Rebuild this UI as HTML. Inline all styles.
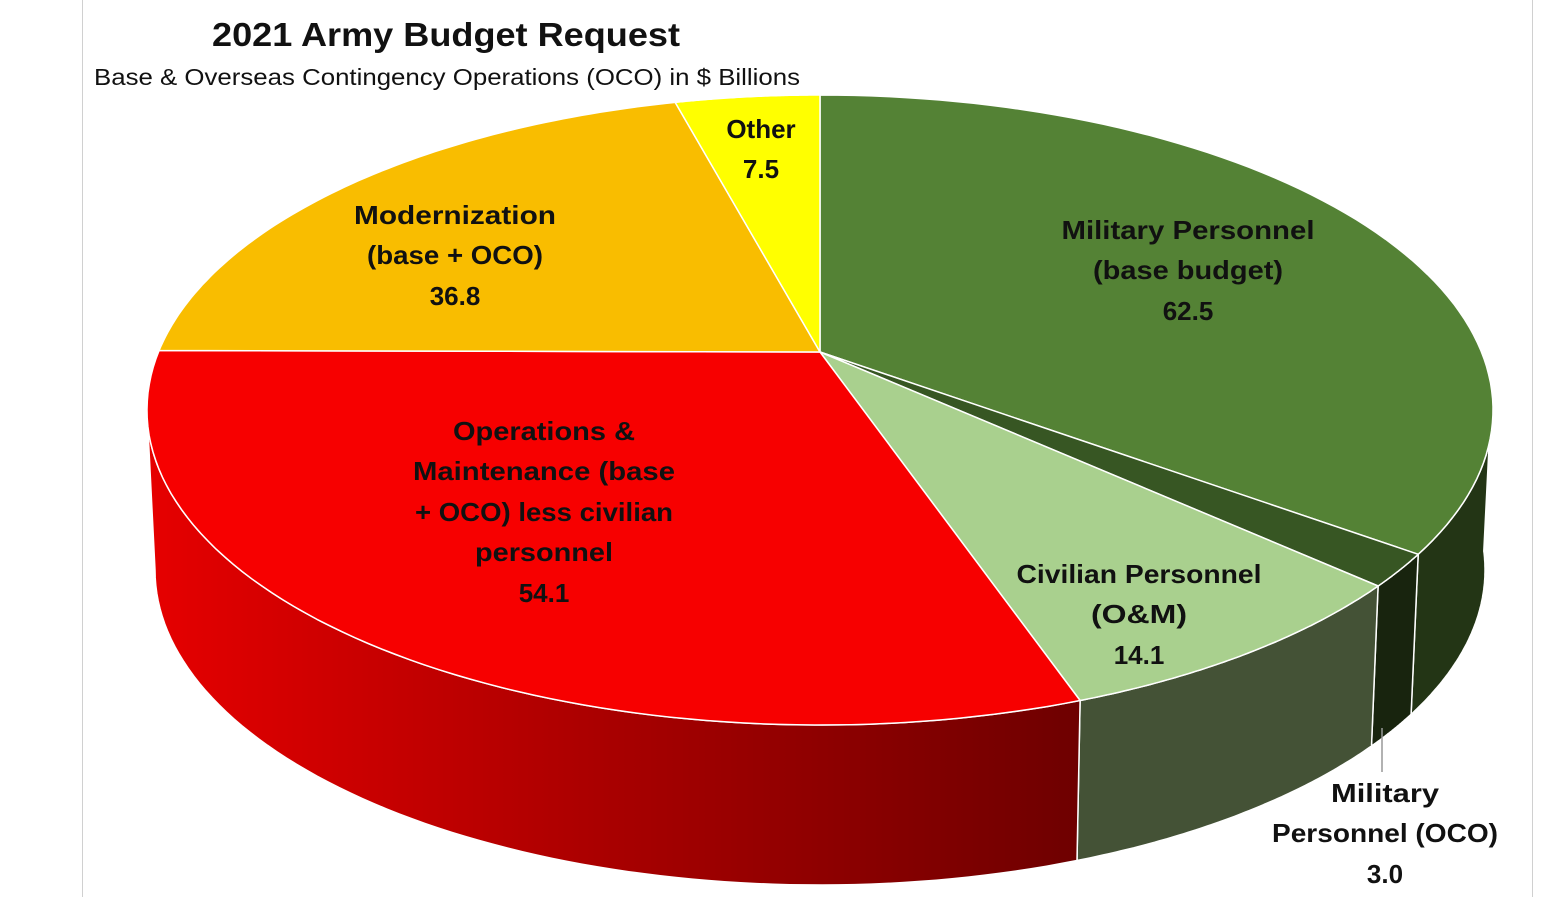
<!DOCTYPE html>
<html><head><meta charset="utf-8"><style>
html,body{margin:0;padding:0;background:#fff;}
svg{display:block;}
text{font-family:"Liberation Sans",Arial,sans-serif;font-weight:bold;fill:#111;}
</style></head><body>
<svg id="s" width="1566" height="897" viewBox="0 0 1566 897">
<defs>
<linearGradient id="rg" x1="147" y1="0" x2="1080" y2="0" gradientUnits="userSpaceOnUse">
<stop offset="0" stop-color="#e60000"/><stop offset="0.5" stop-color="#a80000"/><stop offset="1" stop-color="#6e0000"/>
</linearGradient>
</defs>
<rect x="0" y="0" width="1566" height="897" fill="#fff"/>
<line x1="82.5" y1="0" x2="82.5" y2="897" stroke="#d0d0d0"/>
<line x1="1532.5" y1="0" x2="1532.5" y2="897" stroke="#d0d0d0"/>
<g id="pie"></g>
<line x1="1382" y1="728" x2="1382" y2="772" stroke="#999" stroke-width="1.5"/>
<text x="212" y="46" font-size="33" textLength="468" lengthAdjust="spacingAndGlyphs">2021 Army Budget Request</text>
<text x="94" y="85" font-size="23" textLength="706" lengthAdjust="spacingAndGlyphs" style="font-weight:normal">Base &amp; Overseas Contingency Operations (OCO) in $ Billions</text>
<g font-size="26" text-anchor="middle">
<text x="1188" y="239" textLength="253" lengthAdjust="spacingAndGlyphs">Military Personnel</text>
<text x="1188" y="279" textLength="190" lengthAdjust="spacingAndGlyphs">(base budget)</text>
<text x="1188" y="320">62.5</text>
<text x="761" y="138">Other</text>
<text x="761" y="178">7.5</text>
<text x="455" y="224" textLength="202" lengthAdjust="spacingAndGlyphs">Modernization</text>
<text x="455" y="264" textLength="176" lengthAdjust="spacingAndGlyphs">(base + OCO)</text>
<text x="455" y="305">36.8</text>
<text x="544" y="440" textLength="182" lengthAdjust="spacingAndGlyphs">Operations &amp;</text>
<text x="544" y="480" textLength="262" lengthAdjust="spacingAndGlyphs">Maintenance (base</text>
<text x="544" y="521" textLength="258" lengthAdjust="spacingAndGlyphs">+ OCO) less civilian</text>
<text x="544" y="561" textLength="138" lengthAdjust="spacingAndGlyphs">personnel</text>
<text x="544" y="602">54.1</text>
<text x="1139" y="583" textLength="245" lengthAdjust="spacingAndGlyphs">Civilian Personnel</text>
<text x="1139" y="623" textLength="96" lengthAdjust="spacingAndGlyphs">(O&amp;M)</text>
<text x="1139" y="664">14.1</text>
<text x="1385" y="802" textLength="108" lengthAdjust="spacingAndGlyphs">Military</text>
<text x="1385" y="842" textLength="226" lengthAdjust="spacingAndGlyphs">Personnel (OCO)</text>
<text x="1385" y="883">3.0</text>
</g>
</svg>
<script>
var g=document.getElementById('pie');
function T(t){return [820+673*Math.cos(t),410+315*Math.sin(t)];}
function B(t){return [820+665*Math.cos(t),570+315*Math.sin(t)];}
function arc(f,a,b){var s=[],n=80;for(var i=0;i<=n;i++){var p=f(a+(b-a)*i/n);s.push(p[0].toFixed(1)+','+p[1].toFixed(1));}return s;}
function add(d,fill,stroke){var p=document.createElementNS('http://www.w3.org/2000/svg','path');p.setAttribute('d',d);p.setAttribute('fill',fill);if(stroke){p.setAttribute('stroke',stroke);p.setAttribute('stroke-width','1.5');p.setAttribute('stroke-linejoin','round');}g.appendChild(p);}
function side(a,b,fill){var top=arc(T,a,b),bot=arc(B,a,b).reverse();add('M'+top.join(' L')+' L'+bot.join(' L')+' Z',fill,'#fff');}
var PI=Math.PI;
side(-0.06,0.476,'#233515');
side(0.476,0.593,'#18240e');
side(0.593,1.174,'#445236');
side(1.174,PI,'url(#rg)');
function slice(a,b,fill){var pts=arc(T,a,b);add('M820,352 L'+pts.join(' L')+' Z',fill,'#fff');}
slice(-PI/2,0.476,'#548235');
slice(0.476,0.593,'#375623');
slice(0.593,1.174,'#a9d08e');
slice(1.174,PI+0.19,'#f70000');
slice(PI+0.19,PI+1.354,'#f9bd00');
slice(PI+1.354,1.5*PI,'#ffff00');
</script>
</body></html>
